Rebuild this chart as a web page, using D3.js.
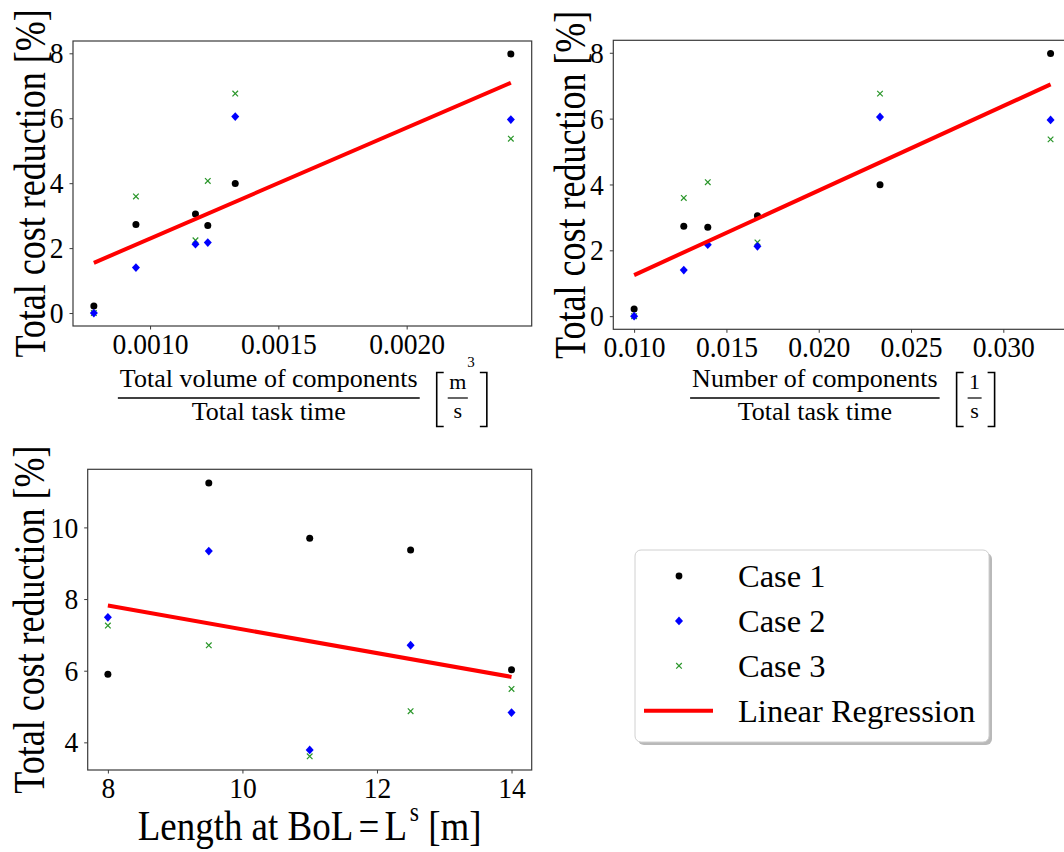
<!DOCTYPE html>
<html><head><meta charset="utf-8">
<script src="https://cdn.jsdelivr.net/npm/d3@7"></script>
<style>
body{margin:0;background:#fff}
svg text{font-family:"Liberation Serif","Times New Roman",serif;fill:#000}
</style></head><body>
<svg id="chart" width="1064" height="852"></svg>
<script>
// ---------- data ----------
const volumeRate    = [0.000781, 0.000945, 0.001177, 0.001225, 0.001332, 0.002406];
const componentRate = [0.0100, 0.01269, 0.01668, 0.01399, 0.02332, 0.03256];
const case1Top = [0.22, 2.73, 3.05, 2.70, 3.99, 7.98];
const case2Top = [0.00, 1.40, 2.12, 2.17, 6.05, 5.96];
const case3Top = [0.00, 3.59, 2.24, 4.07, 6.76, 5.37];
const lengthBoL = [8, 9.5, 11, 12.5, 14];
const case1Len = [5.90, 11.24, 9.70, 9.37, 6.03];
const case2Len = [7.49, 9.34, 3.79, 6.71, 4.83];
const case3Len = [7.26, 6.71, 3.61, 4.87, 5.49];
const ticksVolume = [0.0010, 0.0015, 0.0020];
const ticksComponent = [0.010, 0.015, 0.020, 0.025, 0.030];
const ticksYTop = [0, 2, 4, 6, 8];
const ticksLength = [8, 10, 12, 14];
const ticksYLen = [4, 6, 8, 10];
const legendLabels = ["Case 1", "Case 2", "Case 3", "Linear Regression"];
const yLabel = "Total cost reduction [%]";

const SERIF = '"Liberation Serif","Times New Roman",serif';
const svg = d3.select("#chart");
const C1 = "#000000", C2 = "#0000ff", C3 = "#2a962a", CR = "#ff0000";
const FRAME = "#3a3a3a";

function padDomain(vals) {
  const [a, b] = d3.extent(vals); const m = (b - a) * 0.05; return [a - m, b + m];
}
function linreg(xs, ys) {
  const mx = d3.mean(xs), my = d3.mean(ys);
  let sxy = 0, sxx = 0;
  xs.forEach((x, i) => { sxy += (x - mx) * (ys[i] - my); sxx += (x - mx) * (x - mx); });
  const s = sxy / sxx; return x => my + s * (x - mx);
}
const diamond = "M0,-4.4L4,0L0,4.4L-4,0Z";
const cross = "M-2.8,-2.8L2.8,2.8M-2.8,2.8L2.8,-2.8";

function panel(box, xs, series, xTicks, xFmt, yTicks) {
  const allY = series.flat();
  const x = d3.scaleLinear().domain(padDomain(xs)).range([box.l, box.r]);
  const y = d3.scaleLinear().domain(padDomain(allY)).range([box.b, box.t]);
  const g = svg.append("g");
  const xa = g.append("g").attr("transform", `translate(0,${box.b})`)
    .call(d3.axisBottom(x).tickValues(xTicks).tickFormat(xFmt).tickSize(3.5).tickPadding(3));
  const ya = g.append("g").attr("transform", `translate(${box.l},0)`)
    .call(d3.axisLeft(y).tickValues(yTicks).tickFormat(d3.format("d")).tickSize(3.5).tickPadding(6));
  [xa, ya].forEach(a => {
    a.attr("font-family", SERIF).attr("font-size", 30);
    a.select(".domain").remove();
    a.selectAll(".tick line").attr("stroke", FRAME).attr("stroke-width", 1);
    a.selectAll(".tick text").style("font-family", SERIF).style("font-size", "30px").attr("fill", "#000");
  });
  xa.selectAll(".tick text").attr("transform", "scale(0.92,1)");
  ya.selectAll(".tick text").attr("transform", "scale(0.92,1)").attr("x", -10.3);
  g.append("rect").attr("x", box.l).attr("y", box.t).attr("width", box.r - box.l).attr("height", box.b - box.t)
    .attr("fill", "none").attr("stroke", FRAME).attr("stroke-width", 1.2);
  // case 1
  g.selectAll(null).data(xs.map((v, i) => [v, series[0][i]])).join("circle")
    .attr("cx", d => x(d[0])).attr("cy", d => y(d[1])).attr("r", 3.5).attr("fill", C1);
  // case 3
  g.selectAll(null).data(xs.map((v, i) => [v, series[2][i]])).join("path")
    .attr("transform", d => `translate(${x(d[0])},${y(d[1])})`)
    .attr("d", cross).attr("stroke", C3).attr("stroke-width", 1.2).attr("fill", "none");
  // case 2
  g.selectAll(null).data(xs.map((v, i) => [v, series[1][i]])).join("path")
    .attr("transform", d => `translate(${x(d[0])},${y(d[1])})`).attr("d", diamond).attr("fill", C2);
  // regression over all points
  const px = [], py = [];
  series.forEach(s => s.forEach((v, i) => { px.push(xs[i]); py.push(v); }));
  const f = linreg(px, py);
  const [x0, x1] = d3.extent(xs);
  g.append("line").attr("x1", x(x0)).attr("y1", y(f(x0))).attr("x2", x(x1)).attr("y2", y(f(x1)))
    .attr("stroke", CR).attr("stroke-width", 4);
  // y label (tall, narrow glyphs as in the reference)
  g.append("text").attr("transform", `translate(${box.ylx},${(box.t + box.b) / 2}) rotate(-90) scale(0.8,1)`)
    .attr("text-anchor", "middle").style("font-size", "45px").text(yLabel);
  return { x, y };
}

function fracLabel(cx, numText, denText, uNum, uSup, uDen) {
  const g = svg.append("g");
  const fs = 26;
  const num = g.append("text").attr("x", 0).attr("y", 387).attr("text-anchor", "middle").style("font-size", fs + "px").text(numText);
  const w = num.node().getComputedTextLength() + 4;
  g.append("text").attr("x", 0).attr("y", 420).attr("text-anchor", "middle").style("font-size", fs + "px").text(denText);
  g.append("line").attr("x1", -w / 2).attr("x2", w / 2).attr("y1", 398).attr("y2", 398).attr("stroke", "#000").attr("stroke-width", 1.4);
  const bl = w / 2 + 17;
  g.append("path").attr("d", `M${bl + 7},372.5H${bl}V426.5H${bl + 7}`).attr("fill", "none").attr("stroke", "#000").attr("stroke-width", 1.6);
  const un = g.append("text").attr("y", 389).attr("text-anchor", "middle").style("font-size", "22px").text(uNum);
  const uw = un.node().getComputedTextLength();
  const bw = Math.max(uw + 3, 11);
  const bs = bl + 11, be = bs + bw, ucx = (bs + be) / 2;
  un.attr("x", ucx);
  if (uSup) g.append("text").attr("x", ucx + uw / 2 + 1).attr("y", 367).style("font-size", "15px").text(uSup);
  g.append("line").attr("x1", bs).attr("x2", be).attr("y1", 398).attr("y2", 398).attr("stroke", "#000").attr("stroke-width", 1.2);
  g.append("text").attr("x", ucx).attr("y", 418).attr("text-anchor", "middle").style("font-size", "22px").text(uDen);
  const br = be + (uSup ? 19 : 13);
  g.append("path").attr("d", `M${br - 7},372.5H${br}V426.5H${br - 7}`).attr("fill", "none").attr("stroke", "#000").attr("stroke-width", 1.6);
  const total = br + w / 2;
  g.attr("transform", `translate(${cx - total / 2 + w / 2},0)`);
}

// top-left
panel({ l: 73, r: 531.7, t: 41, b: 326, ylx: 45 }, volumeRate, [case1Top, case2Top, case3Top],
  ticksVolume, d3.format(".4f"), ticksYTop);
fracLabel((73 + 531.7) / 2, "Total volume of components", "Total task time", "m", "3", "s");

// top-right
const trBox = { l: 613.3, t: 40.3, b: 329.3, ylx: 585 };
{
  const dom = padDomain(componentRate);
  trBox.r = 613.3 + (dom[1] - dom[0]) * (92.3 / 0.005);
}
panel(trBox, componentRate, [case1Top, case2Top, case3Top], ticksComponent, d3.format(".3f"), ticksYTop);
fracLabel((trBox.l + trBox.r) / 2, "Number of components", "Total task time", "1", null, "s");

// bottom-left
panel({ l: 87.7, r: 531.7, t: 469.3, b: 770, ylx: 44 }, lengthBoL, [case1Len, case2Len, case3Len],
  ticksLength, d3.format("d"), ticksYLen);
{
  const g = svg.append("g").attr("transform", "translate(309.7,840) scale(0.88,1)");
  const t = g.append("text").attr("x", 0).attr("y", 0).attr("text-anchor", "middle").style("font-size", "42px");
  t.append("tspan").text("Length at BoL");
  t.append("tspan").attr("dx", 6).text("=");
  t.append("tspan").attr("dx", 6).text("L");
  t.append("tspan").attr("dy", -19).style("font-size", "27px").attr("dx", 3).text("s");
  t.append("tspan").attr("dy", 19).text(" [m]");
}

// legend
{
  const lx = 635, ly = 550, lw = 354, lh = 192;
  svg.append("rect").attr("x", lx + 3).attr("y", ly + 3).attr("width", lw).attr("height", lh).attr("rx", 6)
    .attr("fill", "#8a8a8a").attr("opacity", 0.6);
  svg.append("rect").attr("x", lx).attr("y", ly).attr("width", lw).attr("height", lh).attr("rx", 6)
    .attr("fill", "#fff").attr("stroke", "#d0d0d0").attr("stroke-width", 1);
  const ys = d3.scaleLinear().domain([0, 3]).range([576, 710.7]);
  const lg = svg.append("g");
  legendLabels.forEach((lab, i) => {
    const yy = ys(i);
    if (i === 0) lg.append("circle").attr("cx", 679).attr("cy", yy).attr("r", 3.4).attr("fill", C1);
    if (i === 1) lg.append("path").attr("transform", `translate(679,${yy})`).attr("d", diamond).attr("fill", C2);
    if (i === 2) lg.append("path").attr("transform", `translate(679,${yy})`).attr("d", cross)
      .attr("stroke", C3).attr("stroke-width", 1.2);
    if (i === 3) lg.append("line").attr("x1", 644).attr("x2", 713).attr("y1", yy).attr("y2", yy).attr("stroke", CR).attr("stroke-width", 4);
    lg.append("text").attr("x", 738).attr("y", yy + 11).style("font-size", "32.5px").text(lab);
  });
}
</script>
</body></html>
